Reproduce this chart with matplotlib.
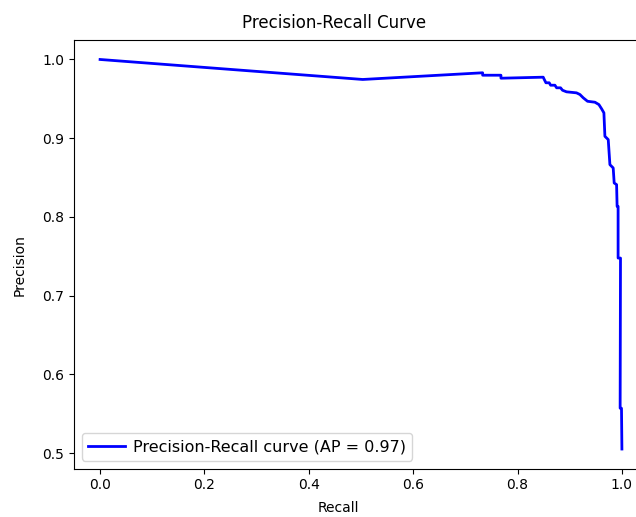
import matplotlib
matplotlib.use("Agg")
import matplotlib.pyplot as plt

recall = [0.0, 0.5033, 0.7331, 0.7331, 0.7682, 0.7682, 0.8492, 0.8506, 0.8544,
          0.8607, 0.8634, 0.8716, 0.8749, 0.8824, 0.8862, 0.8939, 0.9130, 0.9195,
          0.9259, 0.9341, 0.9483, 0.9559, 0.9611, 0.9655, 0.9674, 0.9738, 0.9770,
          0.9833, 0.9852, 0.9898, 0.9908, 0.9927, 0.9927, 0.9973, 0.9966, 0.9992, 1.0]
precision = [1.0, 0.9746, 0.9831, 0.9800, 0.9800, 0.9762, 0.9775, 0.9754, 0.9704,
             0.9704, 0.9673, 0.9673, 0.9640, 0.9640, 0.9609, 0.9589, 0.9576, 0.9555,
             0.9513, 0.9469, 0.9457, 0.9427, 0.9373, 0.9322, 0.9024, 0.8982, 0.8664,
             0.8622, 0.8431, 0.8410, 0.8134, 0.8134, 0.7477, 0.7477, 0.5569, 0.5569, 0.5051]
ap = 0.97

W, H = 636, 517
fig = plt.figure(figsize=(W / 100, H / 100), dpi=100)
left, right, top, bottom = 74, 648, 40, 468.5
aw, ah = right - left, bottom - top
ax = fig.add_axes([left / W, (H - bottom) / H, aw / W, ah / H])
ax.plot(recall, precision, color="blue", lw=2,
        label=f"Precision-Recall curve (AP = {ap:.2f})")
ax.set_xlabel("Recall")
ax.set_ylabel("Precision")
ax.set_title("Precision-Recall Curve", fontsize=12, pad=9)
ax.title.set_position(((334 - left) / aw, 1.0))
ax.xaxis.set_label_coords((338 - left) / aw, -(508 - bottom) / ah, transform=ax.transAxes)
ax.yaxis.set_label_coords(-(left - 20) / aw, (bottom - 265) / ah, transform=ax.transAxes)
ax.xaxis.label.set_va("center")
ax.yaxis.label.set_va("center")
ax.legend(loc="lower left", fontsize=11.5, handlelength=2.3, handletextpad=0.5)
fig.savefig("out.png", dpi=100)
